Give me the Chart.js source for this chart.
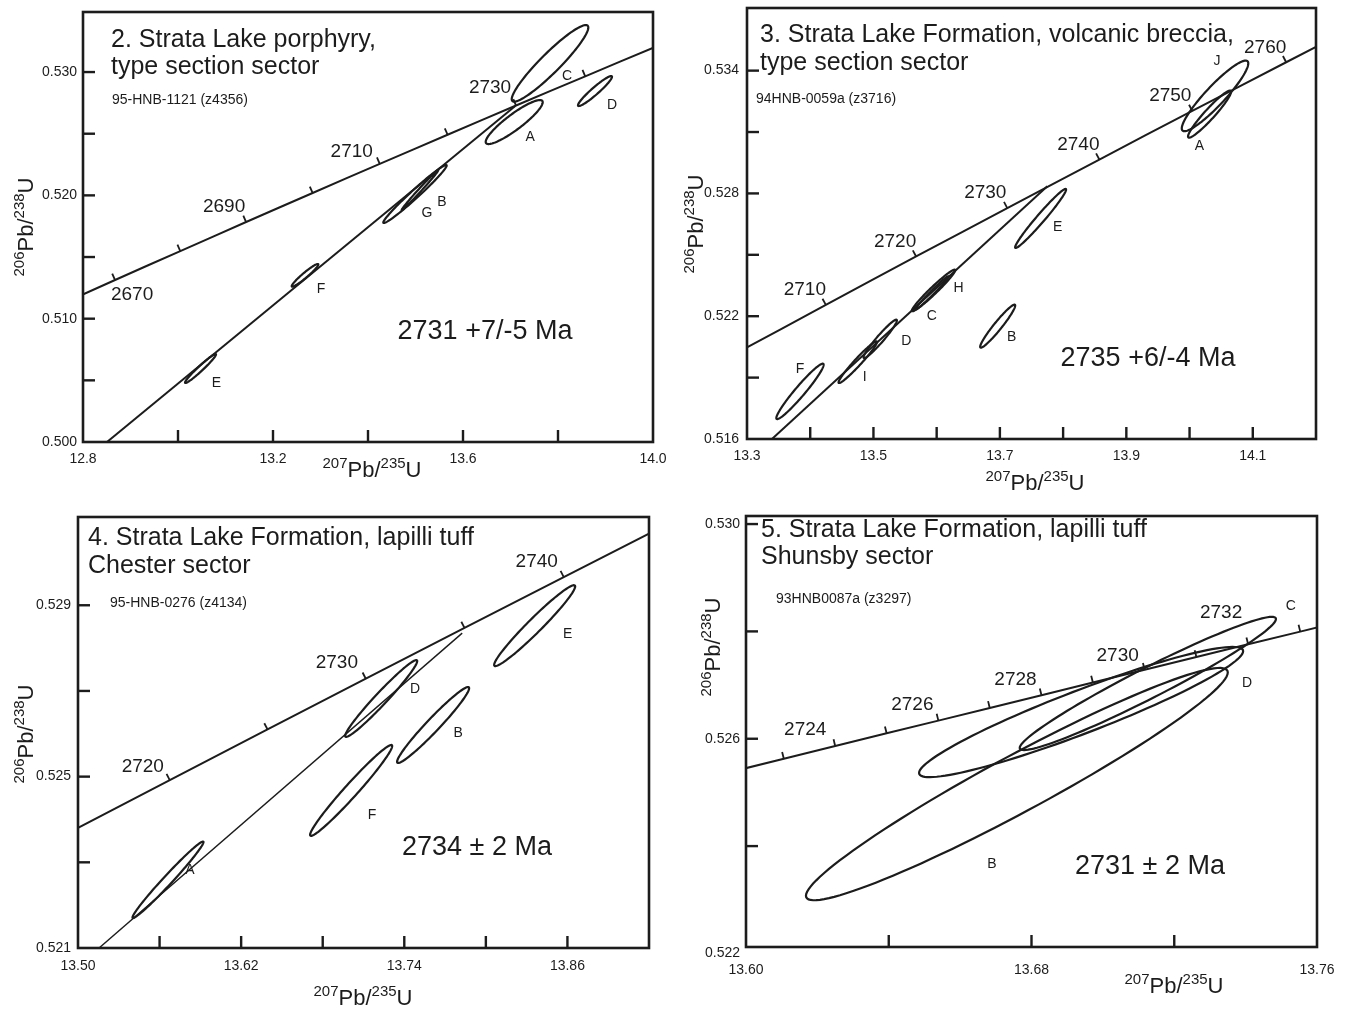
<!DOCTYPE html>
<html><head><meta charset="utf-8">
<script src="https://cdn.jsdelivr.net/npm/chart.js@4.4.1/dist/chart.umd.min.js"></script>
<style>
html,body{margin:0;padding:0;background:#fff}
body{width:1348px;height:1010px;position:relative;overflow:hidden}
canvas{position:absolute}
</style></head><body>
<canvas id="k2" width="670" height="495" style="left:0px;top:0px"></canvas>
<canvas id="k3" width="678" height="495" style="left:670px;top:0px"></canvas>
<canvas id="k4" width="670" height="510" style="left:0px;top:500px"></canvas>
<canvas id="k5" width="678" height="510" style="left:670px;top:500px"></canvas>
<script>
// ---------------- DATA ----------------
// Concordia reference points (age in Ma, 207Pb/235U, 206Pb/238U)
const concAges = [2650,2655,2660,2665,2670,2675,2680,2685,2690,2695,2700,2705,2710,2715,2720,2725,2730,2735,2740,2745,2750,2755,2760,2765,2770];
const concX = [12.5971,12.6642,12.7316,12.7994,12.8675,12.9360,13.0048,13.0739,13.1434,13.2132,13.2834,13.3539,13.4247,13.4959,13.5675,13.6394,13.7117,13.7843,13.8573,13.9306,14.0043,14.0784,14.1528,14.2276,14.3028];
const concY = [0.508448,0.509618,0.510790,0.511962,0.513136,0.514310,0.515485,0.516661,0.517838,0.519016,0.520194,0.521373,0.522554,0.523735,0.524918,0.526101,0.527285,0.528470,0.529656,0.530843,0.532031,0.533220,0.534409,0.535600,0.536791];
const fineAges = [2720,2721,2722,2723,2724,2725,2726,2727,2728,2729,2730,2731,2732,2733,2734,2735,2736];
const fineX = [13.5675,13.5819,13.5963,13.6106,13.6250,13.6394,13.6539,13.6683,13.6828,13.6972,13.7117,13.7262,13.7407,13.7553,13.7698,13.7843,13.7989];
const fineY = [0.524918,0.525155,0.525391,0.525628,0.525864,0.526101,0.526338,0.526574,0.526811,0.527048,0.527285,0.527522,0.527759,0.527996,0.528233,0.528470,0.528707];

// Panel 2
const p2Names = ['A','B','C','D','E','F','G'];
const p2CX  = [13.7078,13.4989,13.7832,13.8779,13.0474,13.2674,13.5095];
const p2CY  = [0.525946,0.520109,0.530706,0.528460,0.505960,0.513516,0.520433];
const p2SX  = [0.0600,0.0667,0.0806,0.0358,0.0326,0.0280,0.0385];
const p2SY  = [0.001784,0.002351,0.003105,0.001216,0.001176,0.000919,0.001622];
const p2Rho = [0.90,0.982,0.935,0.95,0.972,0.957,0.994];
const p2DiscX = [12.8505,13.7100];
const p2DiscY = [0.5000,0.52725];
const p2TickAges = [2660,2670,2680,2690,2700,2710,2720,2730,2740,2750];
const p2LabelAges = [2670,2690,2710,2730];
const p2XTickVals = [12.8,13.0,13.2,13.4,13.6,13.8,14.0];
const p2XTickText = ['12.8','','13.2','','13.6','','14.0'];
const p2YTickVals = [0.500,0.505,0.510,0.515,0.520,0.525,0.530];
const p2YTickText = ['0.500','','0.510','','0.520','','0.530'];

// Panel 3
const p3Names = ['A','B','C','D','E','F','H','I','J'];
const p3CX  = [14.0316,13.6965,13.5924,13.5107,13.7644,13.3838,13.5950,13.4752,14.0403];
const p3CY  = [0.531874,0.521513,0.523136,0.520892,0.526777,0.518326,0.523258,0.519753,0.532764];
const p3SX  = [0.0340,0.0277,0.0264,0.0264,0.0403,0.0374,0.0343,0.0304,0.0526];
const p3SY  = [0.001149,0.001051,0.000816,0.000938,0.001442,0.001354,0.001017,0.001017,0.001725];
const p3Rho = [0.95,0.958,0.986,0.962,0.978,0.962,0.973,0.97,0.92];
const p3DiscX = [13.3395,13.7750];
const p3DiscY = [0.5160,0.52835];
const p3TickAges = [2700,2710,2720,2730,2740,2750,2760,2770];
const p3LabelAges = [2710,2720,2730,2740,2750,2760];
const p3XTickVals = [13.3,13.4,13.5,13.6,13.7,13.8,13.9,14.0,14.1,14.2];
const p3XTickText = ['13.3','','13.5','','13.7','','13.9','','14.1',''];
const p3YTickVals = [0.516,0.519,0.522,0.525,0.528,0.531,0.534];
const p3YTickText = ['0.516','','0.522','','0.528','','0.534'];

// Panel 4
const p4Names = ['A','B','D','E','F'];
const p4CX  = [13.5662,13.7612,13.7230,13.8359,13.7009];
const p4CY  = [0.522592,0.526205,0.526823,0.528524,0.524678];
const p4SX  = [0.0261,0.0265,0.0265,0.0298,0.0302];
const p4SY  = [0.000893,0.000886,0.000897,0.000944,0.001061];
const p4Rho = [0.985,0.969,0.974,0.97,0.977];
const p4DiscX = [13.5155,13.7826];
const p4DiscY = [0.5210,0.52835];
const p4TickAges = [2715,2720,2725,2730,2735,2740,2745];
const p4LabelAges = [2720,2730,2740];
const p4XTickVals = [13.50,13.56,13.62,13.68,13.74,13.80,13.86,13.92];
const p4XTickText = ['13.50','','13.62','','13.74','','13.86',''];
const p4YTickVals = [0.521,0.523,0.525,0.527,0.529];
const p4YTickText = ['0.521','','0.525','','0.529'];

// Panel 5
const p5Names = ['B','C','D'];
const p5CX  = [13.6759,13.7126,13.6939];
const p5CY  = [0.525155,0.527030,0.526498];
const p5SX  = [0.0591,0.0359,0.0454];
const p5SY  = [0.002164,0.001241,0.001213];
const p5Rho = [0.961,0.967,0.935];
const p5TickAges = [2722,2723,2724,2725,2726,2727,2728,2729,2730,2731,2732,2733,2734];
const p5LabelAges = [2724,2726,2728,2730,2732];
const p5XTickVals = [13.60,13.64,13.68,13.72,13.76];
const p5XTickText = ['13.60','','13.68','','13.76'];
const p5YTickVals = [0.522,0.524,0.526,0.528,0.530];
const p5YTickText = ['0.522','','0.526','','0.530'];

// ---------------- LAYOUT / STYLE ----------------
const FONT = '"Liberation Sans", Arial, Helvetica, sans-serif';
const INK = '#1c1c1c';

const panels = [
 { cid:'k2', ox:0, oy:0, pad:{left:83,top:12,right:17,bottom:53},
   xr:[12.8,14.0], yr:[0.500,0.53487],
   xt:[p2XTickVals,p2XTickText], yt:[p2YTickVals,p2YTickText], xLabDy:17, yLabDx:6,
   conc:[concAges,concX,concY], tickAges:p2TickAges, labelAges:p2LabelAges,
   ageOff:{2670:[17,15],2690:[-22,-15],2710:[-28,-12],2730:[-26,-18]},
   disc:[p2DiscX,p2DiscY], discW:2,
   ell:[p2Names,p2CX,p2CY,p2SX,p2SY,p2Rho],
   ellOff:{A:[16,15],B:[27,8],C:[17,13],D:[17,14],E:[16,15],F:[16,14],G:[7,23]},
   title:['2. Strata Lake porphyry,','type section sector'], titleX:111, titleY:[47,74],
   sample:'95-HNB-1121 (z4356)', sampleX:112, sampleY:104,
   result:'2731 +7/-5 Ma', resultXY:[485,332],
   xTitle:[372,477], yTitle:[33,227] },
 { cid:'k3', ox:670, oy:0, pad:{left:77,top:8,right:32,bottom:56},
   xr:[13.3,14.2], yr:[0.516,0.53706],
   xt:[p3XTickVals,p3XTickText], yt:[p3YTickVals,p3YTickText], xLabDy:17, yLabDx:8,
   conc:[concAges,concX,concY], tickAges:p3TickAges, labelAges:p3LabelAges,
   ageOff:{2710:[-21,-15],2720:[-21,-15],2730:[-22,-15],2740:[-21,-15],2750:[-22,-15],2760:[-21,-14]},
   disc:[p3DiscX,p3DiscY], discW:2,
   ell:[p3Names,p3CX,p3CY,p3SX,p3SY,p3Rho],
   ellOff:{J:[2,-35],A:[-10,32],E:[17,9],B:[14,11],H:[25,-2],C:[0,23],D:[26,2],I:[7,15],F:[0,-22]},
   title:['3. Strata Lake Formation, volcanic breccia,','type section sector'], titleX:760, titleY:[42,70],
   sample:'94HNB-0059a (z3716)', sampleX:756, sampleY:103,
   result:'2735 +6/-4 Ma', resultXY:[1148,359],
   xTitle:[1035,490], yTitle:[703,224] },
 { cid:'k4', ox:0, oy:500, pad:{left:78,top:17,right:21,bottom:62},
   xr:[13.50,13.92], yr:[0.521,0.53106],
   xt:[p4XTickVals,p4XTickText], yt:[p4YTickVals,p4YTickText], xLabDy:18, yLabDx:7,
   conc:[concAges,concX,concY], tickAges:p4TickAges, labelAges:p4LabelAges,
   ageOff:{2720:[-27,-13],2730:[-29,-16],2740:[-27,-15]},
   disc:[p4DiscX,p4DiscY], discW:1.4,
   ell:[p4Names,p4CX,p4CY,p4SX,p4SY,p4Rho],
   ellOff:{A:[22,-10],F:[21,25],D:[34,-9],B:[25,8],E:[33,8]},
   title:['4. Strata Lake Formation, lapilli tuff','Chester sector'], titleX:88, titleY:[545,573],
   sample:'95-HNB-0276 (z4134)', sampleX:110, sampleY:607,
   result:'2734 \u00b1 2 Ma', resultXY:[477,848],
   xTitle:[363,1005], yTitle:[33,734] },
 { cid:'k5', ox:670, oy:500, pad:{left:76,top:16,right:31,bottom:63},
   xr:[13.60,13.76], yr:[0.52212,0.53015],
   xt:[p5XTickVals,p5XTickText], yt:[p5YTickVals,p5YTickText], xLabDy:23, yLabDx:6,
   conc:[fineAges,fineX,fineY], tickAges:p5TickAges, labelAges:p5LabelAges,
   ageOff:{2724:[-30,-16],2726:[-26,-16],2728:[-26,-15],2730:[-27,-14],2732:[-27,-32]},
   disc:null,
   ell:[p5Names,p5CX,p5CY,p5SX,p5SY,p5Rho],
   ellOff:{C:[143,-77],D:[166,-29],B:[-25,80]},
   title:['5. Strata Lake Formation, lapilli tuff','Shunsby sector'], titleX:761, titleY:[537,564],
   sample:'93HNB0087a (z3297)', sampleX:776, sampleY:603,
   result:'2731 \u00b1 2 Ma', resultXY:[1150,867],
   xTitle:[1174,993], yTitle:[720,647] }
];

// ---------------- DRAWING ----------------
function isoLabel(ctx, parts, cx, cy, rotate){
  const big = 22, small = 15;
  ctx.save();
  ctx.translate(cx, cy);
  if (rotate) ctx.rotate(-Math.PI/2);
  let w = 0;
  parts.forEach(p => { ctx.font = (p[1]?small:big)+'px '+FONT; w += ctx.measureText(p[0]).width; });
  let x = -w/2;
  ctx.textBaseline = 'alphabetic'; ctx.textAlign = 'left'; ctx.fillStyle = INK;
  parts.forEach(p => {
    ctx.font = (p[1]?small:big)+'px '+FONT;
    ctx.fillText(p[0], x, p[1] ? -9 : 0);
    x += ctx.measureText(p[0]).width;
  });
  ctx.restore();
}

function makePlugin(P){
  return { id:'iso_'+P.cid,
    afterDatasetsDraw(chart){
      const ctx = chart.ctx, xs = chart.scales.x, ys = chart.scales.y, A = chart.chartArea;
      const px = v => xs.getPixelForValue(v), py = v => ys.getPixelForValue(v);
      ctx.save();
      ctx.strokeStyle = INK; ctx.fillStyle = INK; ctx.lineCap = 'butt';
      // ellipses
      ctx.save();
      ctx.beginPath(); ctx.rect(A.left, A.top, A.right-A.left, A.bottom-A.top); ctx.clip();
      const [nm,cx,cy,sx,sy,rh] = P.ell;
      ctx.lineWidth = 2.2;
      for (let i=0;i<nm.length;i++){
        const s = Math.sqrt(1-rh[i]*rh[i]);
        ctx.beginPath();
        for (let k=0;k<=120;k++){
          const t = k/120*2*Math.PI;
          const X = px(cx[i] + sx[i]*Math.cos(t));
          const Y = py(cy[i] + sy[i]*(rh[i]*Math.cos(t) + s*Math.sin(t)));
          if (k===0) ctx.moveTo(X,Y); else ctx.lineTo(X,Y);
        }
        ctx.closePath(); ctx.stroke();
      }
      // concordia tick marks
      const [ages,CX,CY] = P.conc;
      ctx.lineWidth = 1.8;
      P.tickAges.forEach(a => {
        const i = ages.indexOf(a); if (i<0) return;
        const X = px(CX[i]), Y = py(CY[i]);
        if (X < A.left+2 || X > A.right-2) return;
        const j0 = Math.max(0,i-1), j1 = Math.min(ages.length-1,i+1);
        let dx = px(CX[j1])-px(CX[j0]), dy = py(CY[j1])-py(CY[j0]);
        const L = Math.hypot(dx,dy); dx/=L; dy/=L;
        const nx = dy, ny = -dx; // normal pointing up-left
        ctx.beginPath(); ctx.moveTo(X,Y); ctx.lineTo(X+nx*7, Y+ny*7); ctx.stroke();
      });
      ctx.restore();
      // age labels
      ctx.font = '19px '+FONT; ctx.textAlign='center'; ctx.textBaseline='middle';
      P.labelAges.forEach(a => {
        const i = ages.indexOf(a); const o = P.ageOff[a] || [-22,-15];
        ctx.fillText(String(a), px(CX[i])+o[0], py(CY[i])+o[1]);
      });
      // ellipse labels
      ctx.font = '14px '+FONT;
      for (let i=0;i<nm.length;i++){
        const o = P.ellOff[nm[i]] || [15,15];
        ctx.fillText(nm[i], px(cx[i])+o[0], py(cy[i])+o[1]);
      }
      // frame
      ctx.lineWidth = 2.6;
      ctx.strokeRect(A.left, A.top, A.right-A.left, A.bottom-A.top);
      // axis ticks (inward) and labels
      ctx.lineWidth = 2.4;
      ctx.font = '14px '+FONT;
      const [xv,xtxt] = P.xt, [yv,ytxt] = P.yt;
      xv.forEach((v,i) => {
        const X = px(v);
        if (X > A.left+3 && X < A.right-3){ ctx.beginPath(); ctx.moveTo(X,A.bottom); ctx.lineTo(X,A.bottom-12); ctx.stroke(); }
        if (xtxt[i]){ ctx.textAlign='center'; ctx.textBaseline='middle'; ctx.fillText(xtxt[i], X, A.bottom+P.xLabDy); }
      });
      yv.forEach((v,i) => {
        const Y = py(v);
        if (Y > A.top+3 && Y < A.bottom-3){ ctx.beginPath(); ctx.moveTo(A.left,Y); ctx.lineTo(A.left+12,Y); ctx.stroke(); }
        if (ytxt[i]){ ctx.textAlign='right'; ctx.textBaseline='middle'; ctx.fillText(ytxt[i], A.left-P.yLabDx, Y); }
      });
      // texts (page coordinates -> canvas)
      const ox = P.ox, oy = P.oy;
      ctx.textAlign='left'; ctx.textBaseline='alphabetic';
      ctx.font = '25px '+FONT;
      P.title.forEach((t,k) => ctx.fillText(t, P.titleX-ox, P.titleY[k]-oy));
      ctx.font = '14px '+FONT;
      ctx.fillText(P.sample, P.sampleX-ox, P.sampleY-oy);
      ctx.font = '27px '+FONT; ctx.textAlign='center'; ctx.textBaseline='middle';
      ctx.fillText(P.result, P.resultXY[0]-ox, P.resultXY[1]-oy);
      isoLabel(ctx, [['207',true],['Pb/',false],['235',true],['U',false]], P.xTitle[0]-ox, P.xTitle[1]-oy, false);
      isoLabel(ctx, [['206',true],['Pb/',false],['238',true],['U',false]], P.yTitle[0]-ox, P.yTitle[1]-oy, true);
      ctx.restore();
    }
  };
}

panels.forEach(P => {
  const [ages,CX,CY] = P.conc;
  const concPts = ages.map((a,i) => ({x:CX[i], y:CY[i]}));
  const datasets = [{ data: concPts, showLine:true, borderColor:INK, borderWidth:2, pointRadius:0, tension:0, clip:0 }];
  if (P.disc) datasets.push({ data: P.disc[0].map((x,i)=>({x, y:P.disc[1][i]})), showLine:true, borderColor:INK, borderWidth:P.discW, pointRadius:0, clip:0 });
  new Chart(document.getElementById(P.cid).getContext('2d'), {
    type:'scatter',
    data:{ datasets },
    options:{
      responsive:false, animation:false, events:[],
      layout:{ padding:P.pad },
      plugins:{ legend:{display:false}, tooltip:{enabled:false}, title:{display:false} },
      scales:{
        x:{ type:'linear', min:P.xr[0], max:P.xr[1], display:false },
        y:{ type:'linear', min:P.yr[0], max:P.yr[1], display:false }
      }
    },
    plugins:[ makePlugin(P) ]
  });
});
</script>
</body></html>
